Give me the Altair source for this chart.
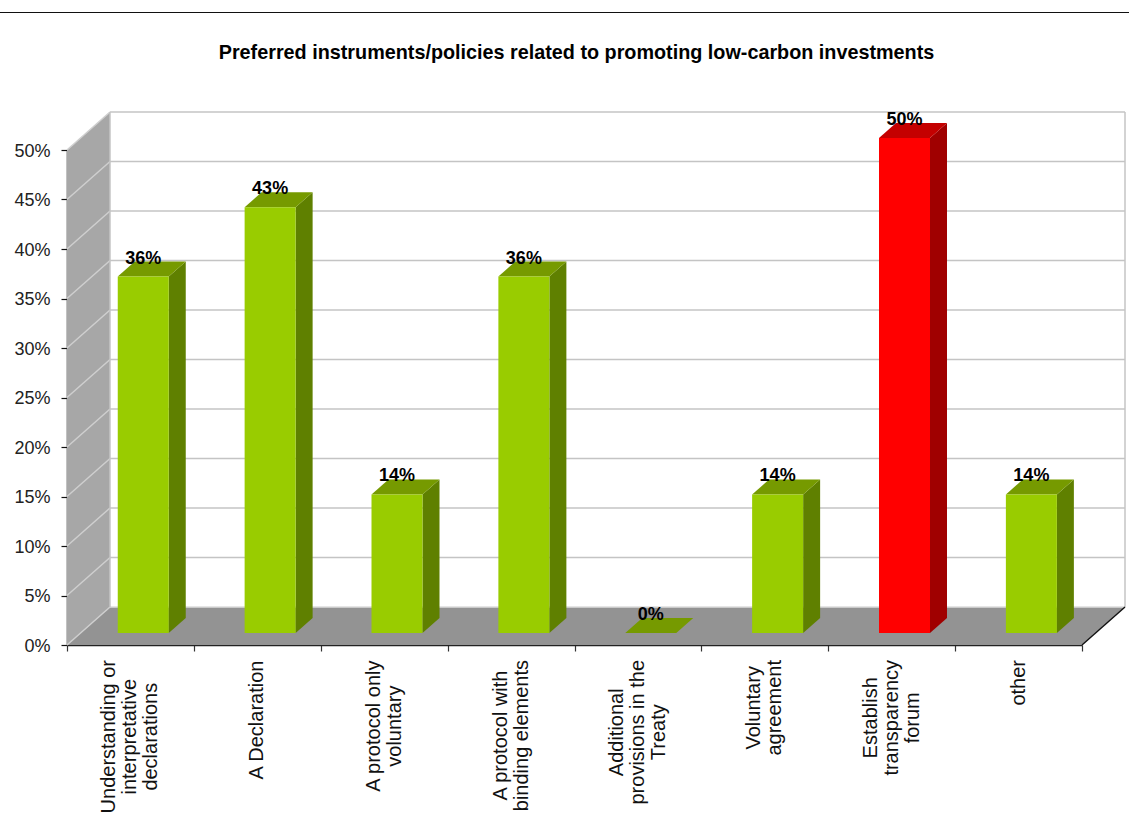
import altair as alt
import pandas as pd

# Survey results
categories = [
    "Understanding or\ninterpretative\ndeclarations",
    "A Declaration",
    "A protocol only\nvoluntary",
    "A protocol with\nbinding elements",
    "Additional\nprovisions in the\nTreaty",
    "Voluntary\nagreement",
    "Establish\ntransparency\nforum",
    "other",
]
shares = [36, 43, 14, 36, 0, 14, 50, 14]
highlighted = [False, False, False, False, False, False, True, False]
y_ticks = [0, 5, 10, 15, 20, 25, 30, 35, 40, 45, 50]
x_ticks = [0, 1, 2, 3, 4, 5, 6, 7, 8]
chart_title = "Preferred instruments/policies related to promoting low-carbon investments"

# Plot frame, in pixels
PLOT_W, PLOT_H = 1015, 495
PAD = {"left": 67, "top": 150, "right": 47, "bottom": 191}
PX_X = PLOT_W / 8   # pixels per category
PX_Y = PLOT_H / 50  # pixels per percentage point

# Oblique projection of the box and the columns, converted to data units
BOX_DX, BOX_DY = 43 / PX_X, 38 / PX_Y
BAR_INSET = 0.4
BAR_W = 51 / PX_X
BAR_DX, BAR_DY = 17 / PX_X, 15 / PX_Y
BAR_BASE = 12 / PX_Y

SKIN = {
    False: {"front": "#99CC00", "side": "#5F8000", "top": "#769A00"},
    True: {"front": "#FF0000", "side": "#A00000", "top": "#C40000"},
}


def face(rows, name, color, points):
    for x, top, bottom in points:
        rows.append({"face": name, "color": color, "x": x, "top": top, "bottom": bottom})


# Walls and floor
box_rows = []
face(box_rows, "wall", "#A7A7A7", [(0, 50, 0), (BOX_DX, 50 + BOX_DY, BOX_DY)])
face(box_rows, "floor", "#939393", [
    (0, 0, 0),
    (BOX_DX, BOX_DY, 0),
    (8, BOX_DY, 0),
    (8 + BOX_DX, BOX_DY, BOX_DY),
])

# Column faces
front_rows, side_rows = [], []
for i, (v, hot) in enumerate(zip(shares, highlighted)):
    skin = SKIN[hot]
    left = i + BAR_INSET
    right = left + BAR_W
    low, high = BAR_BASE, BAR_BASE + v
    if v > 0:
        front_rows.append({"x": left, "x2": right, "y": low, "y2": high, "color": skin["front"]})
        face(side_rows, f"s{i}", skin["side"], [
            (right, high, low),
            (right + BAR_DX, high + BAR_DY, low + BAR_DY),
        ])
    face(side_rows, f"t{i}", skin["top"], [
        (left, high, high),
        (left + BAR_DX, high + BAR_DY, high),
        (right, high + BAR_DY, high),
        (right + BAR_DX, high + BAR_DY, high + BAR_DY),
    ])

# Gridlines on the back wall and the side wall, plus the box edges
line_rows = []


def segment(name, color, a, b):
    line_rows.append({"seg": name, "color": color, "x": a[0], "y": a[1]})
    line_rows.append({"seg": name, "color": color, "x": b[0], "y": b[1]})


for t in y_ticks:
    shade = "#DDDDDD" if t == 0 else "#C4C4C4"
    segment(f"b{t}", shade, (BOX_DX, t + BOX_DY), (8 + BOX_DX, t + BOX_DY))
    segment(f"d{t}", "#CFCFCF", (0, t), (BOX_DX, t + BOX_DY))
segment("edge-l", "#C4C4C4", (BOX_DX, BOX_DY), (BOX_DX, 50 + BOX_DY))
segment("edge-r", "#C4C4C4", (8 + BOX_DX, BOX_DY), (8 + BOX_DX, 50 + BOX_DY))

floor_edge = pd.DataFrame({"x": [8, 8 + BOX_DX], "y": [0, BOX_DY]})

# Advance widths of the axis font, used to hang each centred label from the axis
WIDE = {"i": .222, "j": .222, "l": .222, "f": .278, "t": .278, " ": .278, "r": .333,
        "s": .5, "c": .5, "v": .5, "y": .5, "k": .5, "A": .667, "V": .667, "E": .667,
        "T": .611, "U": .722, "D": .722, "w": .722, "m": .833}
LABEL_SIZE = 20
LABEL_LEADING = 21


def extent(label):
    return max(sum(WIDE.get(c, .556) for c in line) * LABEL_SIZE for line in label.split("\n"))


def line_shift(label):
    # Rotated multi-line text grows to one side of its anchor, so pull the anchor back
    return (label.count("\n")) * LABEL_LEADING / 2 / PX_X


label_df = pd.DataFrame({
    "x": [i + 0.5 - line_shift(c) for i, c in enumerate(categories)],
    "y": [-(15 + extent(c) / 2) / PX_Y for c in categories],
    "label": categories,
})
value_df = pd.DataFrame({
    "x": [i + BAR_INSET + BAR_W / 2 for i in range(len(shares))],
    "y": [BAR_BASE + v for v in shares],
    "text": [f"{v}%" for v in shares],
})

x_scale = alt.Scale(domain=[0, 8], nice=False, zero=False)
y_scale = alt.Scale(domain=[0, 50], nice=False, zero=False)
NOX = alt.Axis(values=x_ticks, labels=False, title=None, grid=False, ticks=True, tickSize=6,
               tickColor="#333333", tickWidth=1.2, domainColor="#222222", domainWidth=1.6)
NOY = alt.Axis(values=y_ticks, labelExpr="datum.value + '%'", title=None, grid=False, tickSize=6,
               tickColor="#111111", tickWidth=1.2, domainColor="#333333", domainWidth=1.6,
               labelFont="Liberation Sans", labelFontSize=18, labelColor="#222222",
               labelPadding=11, labelOffset=1)
color = alt.Color("color:N", scale=None, legend=None)


def area_layer(frame):
    return alt.Chart(pd.DataFrame(frame)).mark_area(opacity=1).encode(
        x=alt.X("x:Q", scale=x_scale, axis=NOX),
        y=alt.Y("top:Q", scale=y_scale, axis=NOY),
        y2="bottom:Q",
        detail="face:N",
        color=color,
    )


boxes = area_layer(box_rows)
gridlines = alt.Chart(pd.DataFrame(line_rows)).mark_line(strokeWidth=1.5).encode(
    x=alt.X("x:Q", scale=x_scale),
    y=alt.Y("y:Q", scale=y_scale),
    detail="seg:N",
    color=color,
)
edge = alt.Chart(floor_edge).mark_line(color="#111111", strokeWidth=1.4).encode(
    x=alt.X("x:Q", scale=x_scale),
    y=alt.Y("y:Q", scale=y_scale),
)
sides = area_layer(side_rows)
fronts = alt.Chart(pd.DataFrame(front_rows)).mark_rect().encode(
    x=alt.X("x:Q", scale=x_scale),
    x2="x2:Q",
    y=alt.Y("y:Q", scale=y_scale),
    y2="y2:Q",
    color=color,
)
values = alt.Chart(value_df).mark_text(
    font="Liberation Sans", fontSize=18, fontWeight="bold", color="#000000",
    baseline="middle", align="center", dy=-18,
).encode(
    x=alt.X("x:Q", scale=x_scale),
    y=alt.Y("y:Q", scale=y_scale),
    text="text:N",
)
labels = alt.Chart(label_df).mark_text(
    font="Liberation Sans", fontSize=LABEL_SIZE, color="#111111", angle=270,
    align="center", baseline="middle", lineBreak="\n", lineHeight=LABEL_LEADING,
).encode(
    x=alt.X("x:Q", scale=x_scale),
    y=alt.Y("y:Q", scale=y_scale),
    text="label:N",
)
top_rule = alt.Chart(pd.DataFrame({"k": [0]})).mark_rule(color="#111111", strokeWidth=1).encode(
    x=alt.value(-PAD["left"]),
    x2=alt.value(PLOT_W + PAD["right"]),
    y=alt.value(12.5 - PAD["top"]),
)
headline = alt.Chart(pd.DataFrame({"text": [chart_title]})).mark_text(
    font="Liberation Sans", fontSize=19.8, fontWeight="bold", color="#000000",
    align="center", baseline="middle",
).encode(
    x=alt.value(576.5 - PAD["left"]),
    y=alt.value(53 - PAD["top"]),
    text="text:N",
)

chart = alt.layer(boxes, gridlines, edge, sides, fronts, values, labels, top_rule, headline).properties(
    width=PLOT_W,
    height=PLOT_H,
    padding=PAD,
    autosize=alt.AutoSizeParams(type="none"),
    background="#FFFFFF",
).configure_view(stroke=None)

chart.save("out.html", embed_options={"renderer": "svg", "actions": False})
